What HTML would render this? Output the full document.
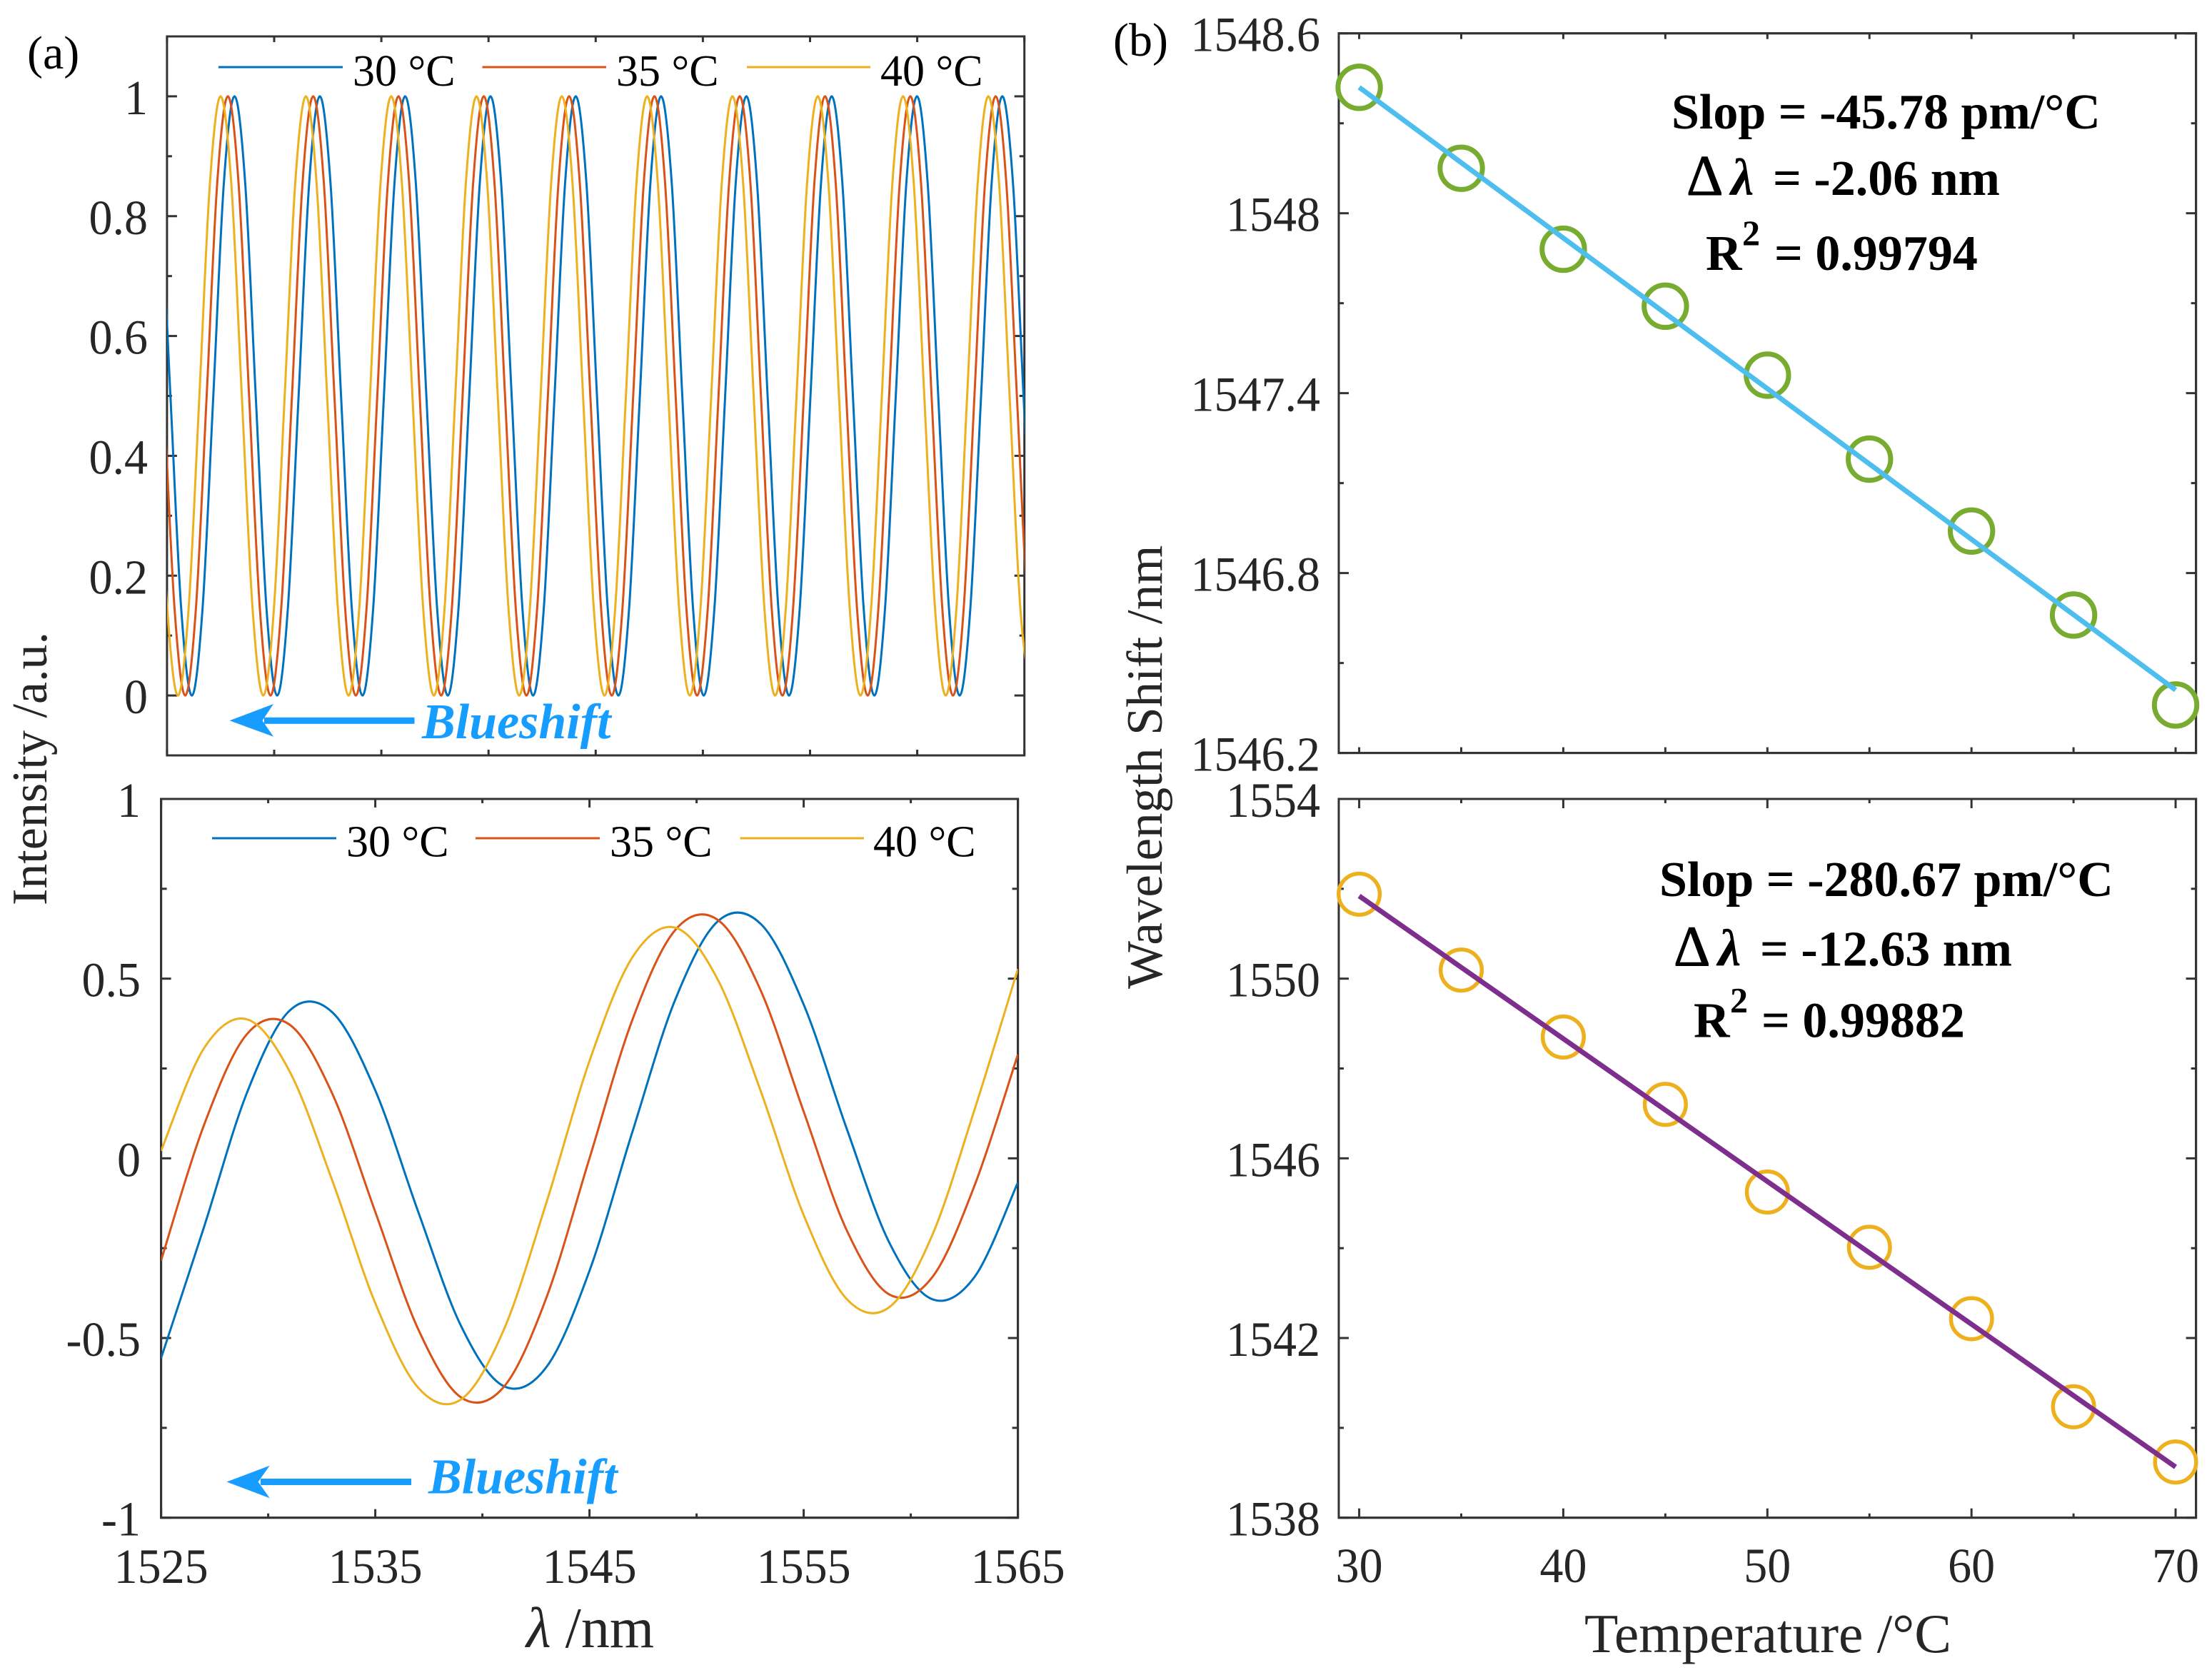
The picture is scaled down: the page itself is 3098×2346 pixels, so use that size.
<!DOCTYPE html>
<html lang="en">
<head>
<meta charset="utf-8">
<title>Temperature response spectra and wavelength shift</title>
<style>
html,body{margin:0;padding:0;background:#fff;}
svg{display:block;}
text{font-family:"Liberation Serif",serif;}
.tick-label{font-size:66px;fill:#262626;}
.axis-title{font-size:75px;fill:#262626;}
.legend-label{font-size:62px;fill:#000;}
.note{font-size:70px;font-weight:bold;fill:#000;}
.shift{font-size:70px;font-weight:bold;font-style:italic;fill:#169dff;}
</style>
</head>
<body>
<svg id="figure" xmlns="http://www.w3.org/2000/svg" width="3098" height="2346" viewBox="0 0 3098 2346">
  <rect width="3098" height="2346" fill="#fff"/>
  <defs>
    <clipPath id="clip-a-top"><rect x="234" y="51" width="1201" height="1007"/></clipPath>
    <clipPath id="clip-a-bottom"><rect x="225.6" y="1119" width="1200" height="1007"/></clipPath>
  </defs>
  <g id="layer-axes"></g>
  <g id="layer-marks"></g>
  <g id="layer-labels"></g>

  <text x="38" y="96" font-size="66" fill="#000">(a)</text>
  <text x="1559" y="78" font-size="66" fill="#000">(b)</text>

  <g>
    <line x1="306" y1="94" x2="480" y2="94" stroke="#0072BD" stroke-width="3"/>
    <text class="legend-label" x="494" y="120">30 °C</text>
    <line x1="675.5" y1="94" x2="849" y2="94" stroke="#D95319" stroke-width="3"/>
    <text class="legend-label" x="863" y="120">35 °C</text>
    <line x1="1046" y1="94" x2="1219" y2="94" stroke="#EDB120" stroke-width="3"/>
    <text class="legend-label" x="1233" y="120">40 °C</text>
  </g>
  <g>
    <line x1="297" y1="1174" x2="471" y2="1174" stroke="#0072BD" stroke-width="3"/>
    <text class="legend-label" x="485" y="1199.5">30 °C</text>
    <line x1="666" y1="1174" x2="840" y2="1174" stroke="#D95319" stroke-width="3"/>
    <text class="legend-label" x="854" y="1199.5">35 °C</text>
    <line x1="1036.5" y1="1174" x2="1210" y2="1174" stroke="#EDB120" stroke-width="3"/>
    <text class="legend-label" x="1223" y="1199.5">40 °C</text>
  </g>

  <g>
    <rect x="370" y="1004.8" width="210.5" height="9" fill="#169dff"/>
    <polygon points="321.5,1009.3 383,986 367.5,1009.3 383,1031.7" fill="#169dff"/>
    <text class="shift" x="591" y="1034">Blueshift</text>
  </g>
  <g>
    <rect x="365" y="2071" width="211" height="9" fill="#169dff"/>
    <polygon points="317.5,2075.5 377.7,2052.7 361.6,2075.5 377.7,2098.3" fill="#169dff"/>
    <text class="shift" x="600" y="2091.4">Blueshift</text>
  </g>

  <g>
    <text class="note" x="2341" y="180">Slop = -45.78 pm/°C</text>
    <text class="note" x="2362" y="273" style="font-size:80px;font-weight:normal" stroke="#000" stroke-width="1">Δ</text>
    <text class="note" x="2424" y="273" style="font-size:73px" font-style="italic">λ</text>
    <text class="note" x="2483" y="273">= -2.06 nm</text>
    <text class="note" x="2389" y="378">R</text>
    <text class="note" x="2440" y="343" style="font-size:50px">2</text>
    <text class="note" x="2485" y="378">= 0.99794</text>
  </g>
  <g>
    <text class="note" x="2324" y="1255">Slop = -280.67 pm/°C</text>
    <text class="note" x="2344" y="1352.7" style="font-size:80px;font-weight:normal" stroke="#000" stroke-width="1">Δ</text>
    <text class="note" x="2406" y="1352.7" style="font-size:73px" font-style="italic">λ</text>
    <text class="note" x="2465" y="1352.7">= -12.63 nm</text>
    <text class="note" x="2372" y="1452.7">R</text>
    <text class="note" x="2423" y="1417.7" style="font-size:50px">2</text>
    <text class="note" x="2467" y="1452.7">= 0.99882</text>
  </g>

  <text class="axis-title" x="737" y="2307" style="font-size:80px"><tspan font-style="italic">λ</tspan> /nm</text>
  <text class="axis-title" x="2733" y="2314" style="font-size:77.5px" text-anchor="end">Temperature /°C</text>
  <text class="axis-title" x="0" y="0" style="font-size:70px" transform="translate(65 1268) rotate(-90)">Intensity /a.u.</text>
  <text class="axis-title" x="0" y="0" style="font-size:71px" transform="translate(1627 1385) rotate(-90)">Wavelength Shift /nm</text>
</svg>
<script>
const topLambda30 = [
1524.17,1524.67,1525.16,1525.66,1526.16,1526.66,1527.16,1527.65,
1528.15,1528.65,1529.14,1529.64,1530.14,1530.64,1531.14,1531.63,
1532.13,1532.63,1533.12,1533.62,1534.12,1534.62,1535.12,1535.61,
1536.11,1536.61,1537.10,1537.60,1538.10,1538.60,1539.10,1539.59,
1540.09,1540.59,1541.08,1541.58,1542.08,1542.58,1543.08,1543.57,
1544.07,1544.57,1545.06,1545.56,1546.06,1546.56,1547.06,1547.55,
1548.05,1548.55,1549.04,1549.54,1550.04,1550.54,1551.04,1551.53,
1552.03,1552.53,1553.02,1553.52,1554.02,1554.52,1555.02,1555.51,
1556.01,1556.51,1557.00,1557.50,1558.00,1558.50,1559.00,1559.49,
1559.99,1560.49,1560.98,1561.48,1561.98,1562.48,1562.98,1563.47,
1563.97,1564.47,1564.96,1565.46,1565.96];
const topLambda35 = [
1523.86,1524.36,1524.85,1525.35,1525.85,1526.35,1526.85,1527.34,
1527.84,1528.34,1528.83,1529.33,1529.83,1530.33,1530.83,1531.32,
1531.82,1532.32,1532.81,1533.31,1533.81,1534.31,1534.81,1535.30,
1535.80,1536.30,1536.79,1537.29,1537.79,1538.29,1538.79,1539.28,
1539.78,1540.28,1540.77,1541.27,1541.77,1542.27,1542.77,1543.26,
1543.76,1544.26,1544.75,1545.25,1545.75,1546.25,1546.75,1547.24,
1547.74,1548.24,1548.73,1549.23,1549.73,1550.23,1550.73,1551.22,
1551.72,1552.22,1552.71,1553.21,1553.71,1554.21,1554.71,1555.20,
1555.70,1556.20,1556.69,1557.19,1557.69,1558.19,1558.69,1559.18,
1559.68,1560.18,1560.67,1561.17,1561.67,1562.17,1562.67,1563.16,
1563.66,1564.16,1564.65,1565.15,1565.65];
const topLambda40 = [
1523.52,1524.02,1524.51,1525.01,1525.51,1526.01,1526.51,1527.00,
1527.50,1528.00,1528.49,1528.99,1529.49,1529.99,1530.49,1530.98,
1531.48,1531.98,1532.47,1532.97,1533.47,1533.97,1534.47,1534.96,
1535.46,1535.96,1536.45,1536.95,1537.45,1537.95,1538.45,1538.94,
1539.44,1539.94,1540.43,1540.93,1541.43,1541.93,1542.43,1542.92,
1543.42,1543.92,1544.41,1544.91,1545.41,1545.91,1546.41,1546.90,
1547.40,1547.90,1548.39,1548.89,1549.39,1549.89,1550.39,1550.88,
1551.38,1551.88,1552.37,1552.87,1553.37,1553.87,1554.37,1554.86,
1555.36,1555.86,1556.35,1556.85,1557.35,1557.85,1558.35,1558.84,
1559.34,1559.84,1560.33,1560.83,1561.33,1561.83,1562.33,1562.82,
1563.32,1563.82,1564.31,1564.81,1565.31];
const topIntensity30 = [
1,.854,.5,.146,0,.146,.5,.854, 1,.854,.5,.146,0,.146,.5,.854,
1,.854,.5,.146,0,.146,.5,.854, 1,.854,.5,.146,0,.146,.5,.854,
1,.854,.5,.146,0,.146,.5,.854, 1,.854,.5,.146,0,.146,.5,.854,
1,.854,.5,.146,0,.146,.5,.854, 1,.854,.5,.146,0,.146,.5,.854,
1,.854,.5,.146,0,.146,.5,.854, 1,.854,.5,.146,0,.146,.5,.854,
1,.854,.5,.146,0];
const topIntensity35 = [
1,.854,.5,.146,0,.146,.5,.854, 1,.854,.5,.146,0,.146,.5,.854,
1,.854,.5,.146,0,.146,.5,.854, 1,.854,.5,.146,0,.146,.5,.854,
1,.854,.5,.146,0,.146,.5,.854, 1,.854,.5,.146,0,.146,.5,.854,
1,.854,.5,.146,0,.146,.5,.854, 1,.854,.5,.146,0,.146,.5,.854,
1,.854,.5,.146,0,.146,.5,.854, 1,.854,.5,.146,0,.146,.5,.854,
1,.854,.5,.146,0];
const topIntensity40 = [
1,.854,.5,.146,0,.146,.5,.854, 1,.854,.5,.146,0,.146,.5,.854,
1,.854,.5,.146,0,.146,.5,.854, 1,.854,.5,.146,0,.146,.5,.854,
1,.854,.5,.146,0,.146,.5,.854, 1,.854,.5,.146,0,.146,.5,.854,
1,.854,.5,.146,0,.146,.5,.854, 1,.854,.5,.146,0,.146,.5,.854,
1,.854,.5,.146,0,.146,.5,.854, 1,.854,.5,.146,0,.146,.5,.854,
1,.854,.5,.146,0];

// ---- Panel (a) bottom: demodulated spectra ----
const bottomLambda = [1525,1527,1529,1531,1533,1535,1537,1539,1541,1543,1545,1547,1549,1551,1553,1555,1557,1559,1561,1563,1565];
const bottomIntensity30 = [-.556,-.192,.181,.411,.406,.189,-.148,-.466,-.634,-.580,-.313,.073,.441,.660,.652,.428,.084,-.235,-.392,-.328,-.067];
const bottomIntensity35 = [-.284,.092,.345,.372,.179,-.149,-.475,-.665,-.636,-.386,0,.385,.635,.663,.466,.130,-.199,-.379,-.331,-.072,.289];
const bottomIntensity40 = [.021,.306,.387,.242,-.063,-.403,-.638,-.671,-.477,-.121,.271,.559,.642,.496,.186,-.158,-.391,-.414,-.214,.140,.527];

// ---- Panel (b): measured points and linear fits ----
const temperatures = [30,35,40,45,50,55,60,65,70];
const shiftTop = [1548.42,1548.15,1547.88,1547.69,1547.46,1547.18,1546.94,1546.66,1546.36];
const shiftBottom = [1551.88,1550.19,1548.70,1547.20,1545.25,1544.02,1542.43,1540.47,1539.24];
const fitTemps = [30,70];
const fitTop = [1548.42,1546.41];
const fitBottom = [1551.84,1539.13];

// ---- Tick values and labels ----
const aTopXTicks = [1525,1530,1535,1540,1545,1550,1555,1560,1565];
const aTopYMajor = [0,0.2,0.4,0.6,0.8,1];
const aTopYLabels = ['0','0.2','0.4','0.6','0.8','1'];
const aTopYMinor = [0.1,0.3,0.5,0.7,0.9];
const aBottomXMajor = [1525,1535,1545,1555,1565];
const aBottomXLabels = ['1525','1535','1545','1555','1565'];
const aBottomXMinor = [1530,1540,1550,1560];
const aBottomYMajor = [-1,-0.5,0,0.5,1];
const aBottomYLabels = ['-1','-0.5','0','0.5','1'];
const aBottomYMinor = [-0.75,-0.25,0.25,0.75];
const bXMajor = [30,40,50,60,70];
const bXLabels = ['30','40','50','60','70'];
const bXMinor = [35,45,55,65];
const bTopYMajor = [1546.2,1546.8,1547.4,1548,1548.6];
const bTopYLabels = ['1546.2','1546.8','1547.4','1548','1548.6'];
const bTopYMinor = [1546.5,1547.1,1547.7,1548.3];
const bBottomYMajor = [1538,1542,1546,1550,1554];
const bBottomYLabels = ['1538','1542','1546','1550','1554'];
const bBottomYMinor = [1540,1544,1548,1552];

const SVGNS = 'http://www.w3.org/2000/svg';
const axesLayer = document.getElementById('layer-axes');
const marksLayer = document.getElementById('layer-marks');
const labelsLayer = document.getElementById('layer-labels');

function mk(tag, attrs, parent) {
  const el = document.createElementNS(SVGNS, tag);
  for (const k in attrs) el.setAttribute(k, attrs[k]);
  parent.appendChild(el);
  return el;
}
function scale(d0, d1, r0, r1) {
  return function (v) { return r0 + (v - d0) * (r1 - r0) / (d1 - d0); };
}
const AXIS_COLOR = '#333333';

const aTopX = scale(1525, 1565, 233.9, 1434.7);
const aTopY = scale(-0.1, 1.1, 1058, 51);
const aBottomX = scale(1525, 1565, 225.6, 1425.6);
const aBottomY = scale(-1, 1, 2125.7, 1119);
const bX = scale(29, 71, 1875, 3075.6);
const bTopY = scale(1546.2, 1548.6, 1054.6, 46.7);
const bBottomY = scale(1538, 1554, 2125.7, 1119);

function drawFrame(x0, y0, x1, y1, xs, xLen, ys, yLen) {
  const frame = mk('rect', {x: x0, y: y0, width: x1 - x0, height: y1 - y0, fill: 'none', stroke: AXIS_COLOR, 'stroke-width': 3}, axesLayer);
  
  
  xs.forEach(function (px) {
    [[y1, y1 - xLen], [y0, y0 + xLen]].forEach(function (p) {
      const t = mk('line', {x1: px, x2: px, y1: p[0], y2: p[1], stroke: AXIS_COLOR, 'stroke-width': 3}, axesLayer);
      
      
    });
  });
  ys.forEach(function (py) {
    [[x0, x0 + yLen], [x1, x1 - yLen]].forEach(function (p) {
      const t = mk('line', {y1: py, y2: py, x1: p[0], x2: p[1], stroke: AXIS_COLOR, 'stroke-width': 3}, axesLayer);
      
      
    });
  });
}
function yLabels(values, labels, yFn, x) {
  values.forEach(function (v, i) {
    const t = mk('text', {transform: 'translate(' + x + ' ' + (yFn(v) + 25) + ') scale(1 1.05)', 'text-anchor': 'end', 'class': 'tick-label'}, labelsLayer);
    t.textContent = labels[i];
    
    
  });
}
function xLabels(values, labels, xFn, y) {
  values.forEach(function (v, i) {
    const t = mk('text', {transform: 'translate(' + xFn(v) + ' ' + y + ') scale(1 1.05)', 'text-anchor': 'middle', 'class': 'tick-label'}, labelsLayer);
    t.textContent = labels[i];
    
    
  });
}
function smoothPath(xs, ys, xFn, yFn) {
  const p = xs.map(function (x, i) { return [xFn(x), yFn(ys[i])]; });
  let d = 'M' + p[0][0].toFixed(2) + ' ' + p[0][1].toFixed(2);
  for (let i = 0; i < p.length - 1; i++) {
    const a = p[Math.max(i - 1, 0)], b = p[i], c = p[i + 1], e = p[Math.min(i + 2, p.length - 1)];
    d += 'C' + (b[0] + (c[0] - a[0]) / 6).toFixed(2) + ' ' + (b[1] + (c[1] - a[1]) / 6).toFixed(2) + ' ' +
         (c[0] - (e[0] - b[0]) / 6).toFixed(2) + ' ' + (c[1] - (e[1] - b[1]) / 6).toFixed(2) + ' ' +
         c[0].toFixed(2) + ' ' + c[1].toFixed(2);
  }
  return d;
}

// Frames and ticks
drawFrame(233.9, 51, 1434.7, 1058, aTopXTicks.map(aTopX), 8, [], 0);
aTopYMajor.forEach(function (v) {
  [[233.9, 247.9], [1434.7, 1420.7]].forEach(function (p) {
    const t = mk('line', {y1: aTopY(v), y2: aTopY(v), x1: p[0], x2: p[1], stroke: AXIS_COLOR, 'stroke-width': 3}, axesLayer);
    
    
  });
});
aTopYMinor.forEach(function (v) {
  [[233.9, 240.9], [1434.7, 1427.7]].forEach(function (p) {
    const t = mk('line', {y1: aTopY(v), y2: aTopY(v), x1: p[0], x2: p[1], stroke: AXIS_COLOR, 'stroke-width': 3}, axesLayer);
    
    
  });
});
drawFrame(225.6, 1119, 1425.6, 2125.7, aBottomXMajor.map(aBottomX), 12, aBottomYMajor.map(aBottomY), 14);
drawFrame(225.6, 1119, 1425.6, 2125.7, aBottomXMinor.map(aBottomX), 6, aBottomYMinor.map(aBottomY), 8);
drawFrame(1875, 46.7, 3075.6, 1054.6, bXMajor.concat(bXMinor).map(bX), 8, bTopYMajor.map(bTopY), 14);
drawFrame(1875, 46.7, 3075.6, 1054.6, [], 0, bTopYMinor.map(bTopY), 7);
drawFrame(1875, 1119, 3075.6, 2125.7, bXMajor.map(bX), 13, bBottomYMajor.map(bBottomY), 14);
drawFrame(1875, 1119, 3075.6, 2125.7, bXMinor.map(bX), 6, bBottomYMinor.map(bBottomY), 7);

// Tick labels
yLabels(aTopYMajor, aTopYLabels, aTopY, 207);
yLabels(aBottomYMajor, aBottomYLabels, aBottomY, 197);
xLabels(aBottomXMajor, aBottomXLabels, aBottomX, 2217);
yLabels(bTopYMajor, bTopYLabels, bTopY, 1849);
yLabels(bBottomYMajor, bBottomYLabels, bBottomY, 1849);
xLabels(bXMajor, bXLabels, bX, 2216);

// Panel (a) curves
const curveTop30 = mk('path', {d: smoothPath(topLambda30, topIntensity30, aTopX, aTopY), fill: 'none', stroke: '#0072BD', 'stroke-width': 3, 'clip-path': 'url(#clip-a-top)'}, marksLayer);


const curveTop35 = mk('path', {d: smoothPath(topLambda35, topIntensity35, aTopX, aTopY), fill: 'none', stroke: '#D95319', 'stroke-width': 3, 'clip-path': 'url(#clip-a-top)'}, marksLayer);


const curveTop40 = mk('path', {d: smoothPath(topLambda40, topIntensity40, aTopX, aTopY), fill: 'none', stroke: '#EDB120', 'stroke-width': 3, 'clip-path': 'url(#clip-a-top)'}, marksLayer);



const curveBottom30 = mk('path', {d: smoothPath(bottomLambda, bottomIntensity30, aBottomX, aBottomY), fill: 'none', stroke: '#0072BD', 'stroke-width': 3, 'clip-path': 'url(#clip-a-bottom)'}, marksLayer);


const curveBottom35 = mk('path', {d: smoothPath(bottomLambda, bottomIntensity35, aBottomX, aBottomY), fill: 'none', stroke: '#D95319', 'stroke-width': 3, 'clip-path': 'url(#clip-a-bottom)'}, marksLayer);


const curveBottom40 = mk('path', {d: smoothPath(bottomLambda, bottomIntensity40, aBottomX, aBottomY), fill: 'none', stroke: '#EDB120', 'stroke-width': 3, 'clip-path': 'url(#clip-a-bottom)'}, marksLayer);



// Panel (b) points then fits
temperatures.forEach(function (t, i) {
  const c = mk('circle', {cx: bX(t), cy: bTopY(shiftTop[i]), r: 29.7, fill: 'none', stroke: '#77AC30', 'stroke-width': 7}, marksLayer);
  
  
});
temperatures.forEach(function (t, i) {
  const c = mk('circle', {cx: bX(t), cy: bBottomY(shiftBottom[i]), r: 28.8, fill: 'none', stroke: '#EDB120', 'stroke-width': 5.5}, marksLayer);
  
  
});
const fitLineTop = mk('line', {x1: bX(fitTemps[0]), y1: bTopY(fitTop[0]), x2: bX(fitTemps[1]), y2: bTopY(fitTop[1]), stroke: '#4DBEEE', 'stroke-width': 7}, marksLayer);


const fitLineBottom = mk('line', {x1: bX(fitTemps[0]), y1: bBottomY(fitBottom[0]), x2: bX(fitTemps[1]), y2: bBottomY(fitBottom[1]), stroke: '#7E2F8E', 'stroke-width': 7}, marksLayer);


</script>
</body>
</html>
